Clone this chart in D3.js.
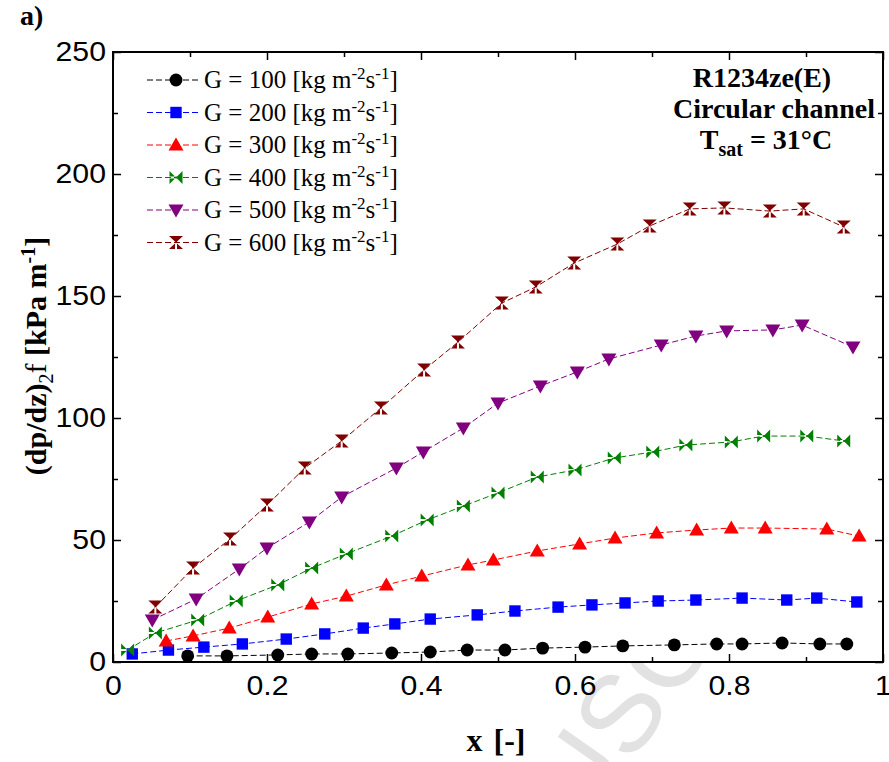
<!DOCTYPE html>
<html>
<head>
<meta charset="utf-8">
<script src="https://cdn.jsdelivr.net/npm/d3@7"></script>
<style>
  body { margin: 0; background: #fff; }
  svg { display: block; }
  .tick text { font-family: "Liberation Sans", Arial, sans-serif; font-size: 27px; fill: #000; }
  .serif { font-family: "Liberation Serif", "Times New Roman", serif; }
</style>
</head>
<body>
<script>
// Frictional pressure gradient vs vapour quality, one series per mass flux
const massFlux = [100, 200, 300, 400, 500, 600];

const g100x = [0.097, 0.148, 0.214, 0.258, 0.305, 0.362, 0.412, 0.460, 0.509, 0.558, 0.613, 0.662, 0.729, 0.784, 0.817, 0.869, 0.918, 0.953];
const g100y = [2.5, 2.5, 2.9, 3.3, 3.3, 3.7, 4.1, 4.9, 4.9, 5.7, 6.1, 6.6, 7.0, 7.4, 7.4, 7.8, 7.4, 7.4];

const g200x = [0.025, 0.072, 0.118, 0.168, 0.225, 0.275, 0.325, 0.366, 0.412, 0.473, 0.522, 0.578, 0.622, 0.665, 0.708, 0.757, 0.817, 0.875, 0.914, 0.966];
const g200y = [3.3, 4.9, 6.1, 7.4, 9.4, 11.5, 13.9, 15.6, 17.6, 19.3, 20.9, 22.5, 23.4, 24.2, 25.0, 25.4, 26.2, 25.4, 26.2, 24.6];

const g300x = [0.069, 0.104, 0.151, 0.201, 0.258, 0.303, 0.355, 0.401, 0.461, 0.494, 0.551, 0.606, 0.652, 0.706, 0.758, 0.803, 0.847, 0.927, 0.969];
const g300y = [8.6, 10.7, 13.9, 18.4, 23.8, 27.0, 31.6, 35.2, 39.8, 41.8, 45.5, 48.4, 50.8, 52.9, 54.1, 54.9, 54.9, 54.5, 51.6];

const g400x = [0.019, 0.055, 0.110, 0.160, 0.214, 0.258, 0.303, 0.362, 0.408, 0.455, 0.500, 0.551, 0.600, 0.651, 0.701, 0.744, 0.803, 0.845, 0.901, 0.949];
const g400y = [4.9, 11.9, 17.2, 25.0, 31.6, 38.5, 44.3, 51.6, 58.2, 63.9, 69.3, 75.8, 78.7, 83.6, 86.1, 88.9, 90.2, 92.6, 92.6, 90.6];

const g500x = [0.051, 0.108, 0.164, 0.200, 0.255, 0.297, 0.368, 0.403, 0.455, 0.500, 0.555, 0.603, 0.644, 0.712, 0.757, 0.797, 0.857, 0.895, 0.961];
const g500y = [17.2, 25.8, 38.1, 46.7, 57.4, 67.6, 79.5, 86.1, 95.9, 106.1, 113.1, 118.9, 124.2, 129.9, 133.6, 135.7, 136.1, 138.1, 129.1];

const g600x = [0.055, 0.104, 0.152, 0.200, 0.249, 0.297, 0.348, 0.404, 0.448, 0.505, 0.549, 0.599, 0.655, 0.697, 0.749, 0.794, 0.853, 0.897, 0.949];
const g600y = [22.5, 38.5, 50.4, 64.3, 79.5, 90.6, 104.1, 119.7, 131.1, 147.1, 153.7, 163.5, 171.3, 178.7, 185.7, 186.1, 184.8, 185.7, 178.3];

const xTicks = [0, 0.1, 0.2, 0.3, 0.4, 0.5, 0.6, 0.7, 0.8, 0.9, 1];
const xTickLabels = ["0", "", "0.2", "", "0.4", "", "0.6", "", "0.8", "", "1"];
const yTicks = [0, 25, 50, 75, 100, 125, 150, 175, 200, 225, 250];
const yTickLabels = ["0", "", "50", "", "100", "", "150", "", "200", "", "250"];

const colors = ["#000000", "#0000ff", "#ff0000", "#008000", "#800080", "#800000"];

const W = 889, H = 762;
const margin = { left: 113, right: 6, top: 52, bottom: 100 };

const svg = d3.select("body").append("svg")
    .attr("width", W)
    .attr("height", H);

const x = d3.scaleLinear().domain([0, 1]).range([margin.left, W - margin.right]);
const y = d3.scaleLinear().domain([0, 250]).range([H - margin.bottom, margin.top]);

const series = [
    { xs: g100x, ys: g100y, marker: "circle" },
    { xs: g200x, ys: g200y, marker: "square" },
    { xs: g300x, ys: g300y, marker: "triUp" },
    { xs: g400x, ys: g400y, marker: "bowtie" },
    { xs: g500x, ys: g500y, marker: "triDown" },
    { xs: g600x, ys: g600y, marker: "hourglass" }
];

// marker shapes centred on 0,0
function markerPath(kind) {
    switch (kind) {
        case "circle": return d3.symbol(d3.symbolCircle, 130)();
        case "square": return d3.symbol(d3.symbolSquare, 130)();
        case "triUp": return "M0,-7.5L7.5,5.5L-7.5,5.5Z";
        case "triDown": return "M0,7.5L7.5,-5.5L-7.5,-5.5Z";
        case "bowtie": return "M-6.5,-6.5L-6.5,6.5L0,0ZM6.5,-6.5L6.5,6.5L0,0ZM-6.5,-1L6.5,-1L6.5,1L-6.5,1Z";
        case "hourglass": return "M-7,-6.5L7,-6.5L0,0ZM-7,6.5L7,6.5L0,0ZM-1,-6.5L1,-6.5L1,6.5L-1,6.5Z";
    }
}

// faint watermark letters, only showing below the axis
svg.append("clipPath").attr("id", "wmClip")
    .append("rect").attr("x", 0).attr("y", y(0) + 1).attr("width", W).attr("height", H);
svg.append("g").attr("clip-path", "url(#wmClip)")
    .append("text")
    .attr("transform", "translate(585,830) rotate(-55)")
    .attr("font-family", "Liberation Sans, Arial, sans-serif")
    .attr("font-size", 110)
    .attr("fill", "#e2e2e2")
    .text("USC");

// axes with inward ticks on all four sides
function tickLen(i) { return i % 2 === 0 ? 8 : 5; }

const xAxis = svg.append("g")
    .attr("transform", `translate(0,${y(0)})`)
    .call(d3.axisBottom(x).tickValues(xTicks).tickSize(0).tickPadding(14)
        .tickFormat((d, i) => xTickLabels[i]));
xAxis.selectAll(".tick line").attr("y2", (d, i) => -tickLen(i));
xAxis.selectAll(".tick text").attr("dy", "0.71em");

const xTop = svg.append("g")
    .attr("transform", `translate(0,${y(250)})`)
    .call(d3.axisTop(x).tickValues(xTicks).tickSize(0).tickFormat(""));
xTop.selectAll(".tick line").attr("y2", (d, i) => tickLen(i));

const yAxis = svg.append("g")
    .attr("transform", `translate(${x(0)},0)`)
    .call(d3.axisLeft(y).tickValues(yTicks).tickSize(0).tickPadding(7)
        .tickFormat((d, i) => yTickLabels[i]));
yAxis.selectAll(".tick line").attr("x2", (d, i) => tickLen(i));

const yRight = svg.append("g")
    .attr("transform", `translate(${x(1)},0)`)
    .call(d3.axisRight(y).tickValues(yTicks).tickSize(0).tickFormat(""));
yRight.selectAll(".tick line").attr("x2", (d, i) => -tickLen(i));

svg.selectAll(".domain").remove();
svg.selectAll(".tick line").attr("stroke", "#000").attr("stroke-width", 1.5);

// tick numbers are set a little wide
svg.selectAll(".tick text").each(function () {
    const len = this.getComputedTextLength();
    if (len > 0) d3.select(this).attr("textLength", len * 1.12).attr("lengthAdjust", "spacingAndGlyphs");
});

svg.append("rect")
    .attr("x", x(0)).attr("y", y(250))
    .attr("width", x(1) - x(0)).attr("height", y(0) - y(250))
    .attr("fill", "none").attr("stroke", "#000").attr("stroke-width", 2);

// data lines and markers
const line = d3.line().x(d => x(d[0])).y(d => y(d[1]));

series.forEach((s, k) => {
    const pts = s.xs.map((v, i) => [v, s.ys[i]]);
    svg.append("path")
        .datum(pts)
        .attr("d", line)
        .attr("fill", "none")
        .attr("stroke", colors[k])
        .attr("stroke-width", 1)
        .attr("stroke-dasharray", "6,3");
    svg.append("g").selectAll("path")
        .data(pts)
        .join("path")
        .attr("transform", d => `translate(${x(d[0])},${y(d[1])})`)
        .attr("d", markerPath(s.marker))
        .attr("fill", colors[k]);
});

// legend
const legend = svg.append("g").attr("class", "serif");
massFlux.forEach((g, k) => {
    const cy = 80 + k * 32.5;
    legend.append("line")
        .attr("x1", 147).attr("x2", 199).attr("y1", cy).attr("y2", cy)
        .attr("stroke", colors[k]).attr("stroke-width", 1)
        .attr("stroke-dasharray", "6,3");
    legend.append("path")
        .attr("transform", `translate(176,${cy})`)
        .attr("d", markerPath(series[k].marker))
        .attr("fill", colors[k]);
    const t = legend.append("text")
        .attr("x", 204).attr("y", cy + 8)
        .attr("font-size", 25);
    t.append("tspan").text(`G = ${g} [kg m`);
    t.append("tspan").attr("dy", -9).attr("font-size", 17).text("-2");
    t.append("tspan").attr("dy", 9).text("s");
    t.append("tspan").attr("dy", -9).attr("font-size", 17).text("-1");
    t.append("tspan").attr("dy", 9).text("]");
});

// fluid / geometry annotation
const note = svg.append("g").attr("class", "serif")
    .attr("font-weight", "bold").attr("font-size", 28).attr("text-anchor", "middle");
note.append("text").attr("x", 762).attr("y", 87).text("R1234ze(E)");
note.append("text").attr("x", 774).attr("y", 118).text("Circular channel");
const ts = note.append("text").attr("x", 766).attr("y", 149);
ts.append("tspan").text("T");
ts.append("tspan").attr("dy", 7).attr("font-size", 20).text("sat");
ts.append("tspan").attr("dy", -7).text(" = 31\u00B0C");

// axis titles
svg.append("text").attr("class", "serif")
    .attr("x", 496).attr("y", 751)
    .attr("text-anchor", "middle")
    .attr("font-weight", "bold").attr("font-size", 32)
    .attr("word-spacing", 3)
    .text("x [-]");

const yt = svg.append("text").attr("class", "serif")
    .attr("transform", "translate(46,356) rotate(-90)")
    .attr("text-anchor", "middle")
    .attr("font-weight", "bold").attr("font-size", 30);
yt.append("tspan").text("(dp/dz)");
yt.append("tspan").attr("dy", 7).attr("font-size", 20).attr("font-weight", "normal").text("2");
yt.append("tspan").attr("dy", -7).attr("font-weight", "normal").text("f");
yt.append("tspan").text(" [kPa m");
yt.append("tspan").attr("dy", -11).attr("font-size", 20).text("-1");
yt.append("tspan").attr("dy", 11).text("]");

svg.append("text").attr("class", "serif")
    .attr("x", 20).attr("y", 25)
    .attr("font-weight", "bold").attr("font-size", 28)
    .text("a)");
</script>
</body>
</html>
